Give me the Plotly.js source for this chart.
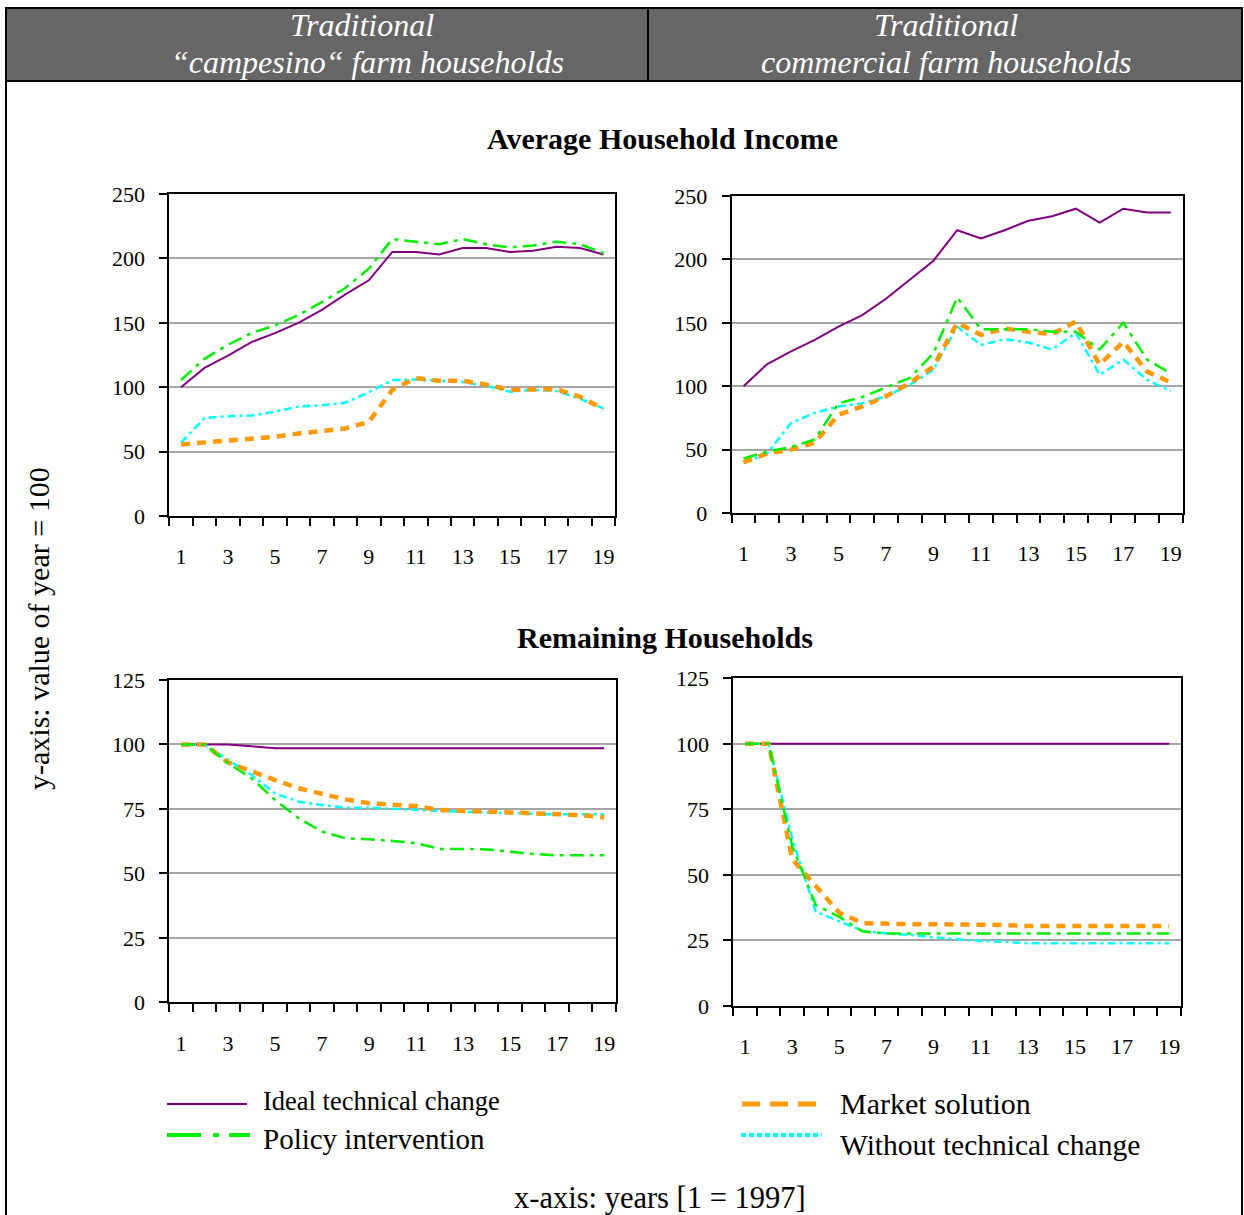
<!DOCTYPE html>
<html>
<head>
<meta charset="utf-8">
<script src="https://cdn.plot.ly/plotly-3.0.1.min.js"></script>
<style>html,body{margin:0;padding:0;background:#fff;}#chart{width:1244px;height:1215px;}</style>
</head>
<body>
<div id="chart"></div>
<script>
// ---------- DATA ----------
var years = [1,2,3,4,5,6,7,8,9,10,11,12,13,14,15,16,17,18,19];
var xTickVals = [1,3,5,7,9,11,13,15,17,19];
var xTickText = ["1","3","5","7","9","11","13","15","17","19"];
var seriesNames = ["Ideal technical change","Policy intervention","Market solution","Without technical change"];

// Average household income - traditional "campesino" farm households
var incCampIdeal   = [100,115,124.5,135,142,150,160,172,183,205,205,203,208,208,205,206,209,208,203];
var incCampPolicy  = [105.6,122,133,142,148,156,166,177,192,215,213,211,215,211,208.5,210,213,211,204];
var incCampMarket  = [55.6,57,59,60.5,61.5,64,66,68,73,98,107,105,105,102,98,98.5,98.5,92.5,83];
var incCampWithout = [57,76,77.5,78,81,85,86,88,96,105.5,106,105,104,101,96.5,98,97,91,83.5];

// Average household income - traditional commercial farm households
var incCommIdeal   = [100,117.5,127.5,136.5,147,156,169,184,199,223,216.5,223,230.5,234,240,229,240,237,237];
var incCommPolicy  = [43,48.5,52,58,86.5,91.5,99,106.5,126,170,145,145,145,143,143,129,150,121,110];
var incCommMarket  = [40,47,50,55.5,77.5,84,92,102.5,115.5,150,140.5,145.5,143,141,151,117,135,111.5,103];
var incCommWithout = [39.5,47,71,79,84,86.5,92,101,113,147,132.5,137,134.5,129,142,109,121,105,96];

// Remaining households - traditional "campesino" farm households
var remCampIdeal   = [100,100,100,99.3,98.5,98.5,98.5,98.5,98.5,98.5,98.5,98.5,98.5,98.5,98.5,98.5,98.5,98.5,98.5];
var remCampPolicy  = [100,100,92.7,86.9,78.5,71.4,66.2,63.6,63.2,62.6,61.7,59.5,59.5,59.3,58.4,57.5,57,57,57];
var remCampMarket  = [100,100,93,89.5,86.2,83,80.8,78.7,77.2,76.5,76.1,74.6,74.2,73.6,73.6,73.3,72.9,72.6,71.7];
var remCampWithout = [100,100,94,88.2,81,77.8,76.5,75.5,75.5,75,74.6,74.2,73.9,73.6,73.3,73,72.9,72.9,72.9];

// Remaining households - traditional commercial farm households
var remCommIdeal   = [100,100,100,100,100,100,100,100,100,100,100,100,100,100,100,100,100,100,100];
var remCommPolicy  = [100,100,61,38.5,34,28.4,27.7,27.7,27.7,27.7,27.7,27.7,27.7,27.7,27.7,27.7,27.7,27.7,27.7];
var remCommMarket  = [100,100,56,46,35.5,31.6,31.2,31.2,31.2,31.2,31.2,30.9,30.5,30.5,30.5,30.5,30.5,30.5,30.5];
var remCommWithout = [100,100,64,36,32.3,28.6,27.7,27.1,26.2,25.4,24.8,24.5,23.9,23.9,23.9,23.9,23.9,23.9,23.9];

// ---------- STYLES ----------
var W = 1244, H = 1215;
function px(x){ return x / W; }
function py(y){ return 1 - y / H; }
var SERIF = "Liberation Serif, Times New Roman, serif";

var styles = {
  ideal:   {color:"#800080", width:2, dash:"solid"},
  policy:  {color:"#00ee00", width:2.5, dash:"14px,6px,4px,6px"},
  market:  {color:"#ff9900", width:4.5, dash:"9px,7px"},
  without: {color:"#00ffff", width:2.5, dash:"8px,4px,3px,4px"}
};

function mk(y, st, name, xa, ya){
  return {x: years, y: y, type:"scatter", mode:"lines", name:name,
          xaxis:xa, yaxis:ya, showlegend:false, hoverinfo:"skip",
          line:{color:st.color, width:st.width, dash:st.dash}};
}

var panels = [
  {xa:"x",  ya:"y",  d:[incCampIdeal,incCampPolicy,incCampMarket,incCampWithout]},
  {xa:"x2", ya:"y2", d:[incCommIdeal,incCommPolicy,incCommMarket,incCommWithout]},
  {xa:"x3", ya:"y3", d:[remCampIdeal,remCampPolicy,remCampMarket,remCampWithout]},
  {xa:"x4", ya:"y4", d:[remCommIdeal,remCommPolicy,remCommMarket,remCommWithout]}
];

var traces = [];
panels.forEach(function(p){
  traces.push(mk(p.d[0], styles.ideal,   seriesNames[0], p.xa, p.ya));
  traces.push(mk(p.d[3], styles.without, seriesNames[3], p.xa, p.ya));
  traces.push(mk(p.d[2], styles.market,  seriesNames[2], p.xa, p.ya));
  traces.push(mk(p.d[1], styles.policy,  seriesNames[1], p.xa, p.ya));
});

function xAxis(dom, anchor){
  return {domain:dom, anchor:anchor, range:[0.5,19.5], fixedrange:true,
    showline:true, linecolor:"#000", linewidth:2, mirror:true,
    showgrid:false, zeroline:false,
    tickmode:"array", tickvals:xTickVals, ticktext:xTickText, ticks:"",
    ticklabelstandoff:20,
    minor:{tickmode:"linear", tick0:0.5, dtick:1, ticks:"outside", ticklen:8, tickwidth:2, tickcolor:"#000", showgrid:false},
    tickfont:{family:SERIF, size:22, color:"#000"}};
}
function yAxis(dom, anchor, maxv, step){
  return {domain:dom, anchor:anchor, range:[0,maxv], fixedrange:true,
    showline:true, linecolor:"#000", linewidth:2, mirror:true,
    showgrid:true, gridcolor:"#a6a6a6", gridwidth:2, zeroline:false,
    tickmode:"linear", tick0:0, dtick:step, ticks:"outside", ticklen:8, tickwidth:2, tickcolor:"#000",
    ticklabelstandoff:10,
    tickfont:{family:SERIF, size:22, color:"#000"}};
}

function txt(x, y, s, size, anchor, extra){
  var a = {xref:"paper", yref:"paper", x:px(x), y:py(y), text:s, showarrow:false,
           xanchor:anchor, yanchor:"middle", font:{family:SERIF, size:size, color:"#000"}};
  if (extra) for (var k in extra) a[k] = extra[k];
  return a;
}

var layout = {
  width:W, height:H, margin:{l:0,r:0,t:0,b:0}, paper_bgcolor:"#fff", plot_bgcolor:"#fff",
  showlegend:false,
  xaxis:  xAxis([px(169.3), px(615.3)], "y"),
  yaxis:  yAxis([py(516), py(194)], "x", 250, 50),
  xaxis2: xAxis([px(731.7), px(1182.7)], "y2"),
  yaxis2: yAxis([py(513), py(196)], "x2", 250, 50),
  xaxis3: xAxis([px(169.3), px(616)], "y3"),
  yaxis3: yAxis([py(1002.3), py(680)], "x3", 125, 25),
  xaxis4: xAxis([px(733.3), px(1181)], "y4"),
  yaxis4: yAxis([py(1006), py(678.3)], "x4", 125, 25),
  shapes: [
    // outer frame
    {type:"rect", xref:"paper", yref:"paper", x0:px(6), x1:px(1242), y0:py(1225), y1:py(8), line:{color:"#000", width:2}, fillcolor:"rgba(0,0,0,0)", layer:"below"},
    // header band
    {type:"rect", xref:"paper", yref:"paper", x0:px(6), x1:px(1242), y0:py(81), y1:py(8), line:{color:"#000", width:2}, fillcolor:"#666666", layer:"below"},
    {type:"line", xref:"paper", yref:"paper", x0:px(648), x1:px(648), y0:py(81), y1:py(8), line:{color:"#000", width:2}},
    // legend samples
    {type:"line", xref:"paper", yref:"paper", x0:px(167), x1:px(247), y0:py(1104), y1:py(1104), line:{color:styles.ideal.color, width:2}},
    {type:"line", xref:"paper", yref:"paper", x0:px(167), x1:px(250), y0:py(1135), y1:py(1135), line:{color:styles.policy.color, width:4, dash:"34px,12px,6px,10px"}},
    {type:"line", xref:"paper", yref:"paper", x0:px(742), x1:px(820), y0:py(1104), y1:py(1104), line:{color:styles.market.color, width:5, dash:"18px,10px"}},
    {type:"line", xref:"paper", yref:"paper", x0:px(741), x1:px(822), y0:py(1135), y1:py(1135), line:{color:styles.without.color, width:4, dash:"5px,3px"}}
  ],
  annotations: [
    txt(362, 25, "<i>Traditional</i>", 32, "center", {font:{family:SERIF, size:32, color:"#fff"}}),
    txt(367, 62, "<i>“campesino“ farm households</i>", 32, "center", {font:{family:SERIF, size:32, color:"#fff"}}),
    txt(946, 25, "<i>Traditional</i>", 32, "center", {font:{family:SERIF, size:32, color:"#fff"}}),
    txt(946, 62, "<i>commercial farm households</i>", 32, "center", {font:{family:SERIF, size:32, color:"#fff"}}),
    txt(663, 138, "<b>Average Household Income</b>", 30, "center"),
    txt(665, 637, "<b>Remaining Households</b>", 30, "center"),
    txt(38, 629, "y-axis: value of year = 100", 30, "center", {textangle:-90}),
    txt(261, 1101, seriesNames[0], 26.5, "left"),
    txt(261, 1139, seriesNames[1], 29, "left"),
    txt(838, 1103, seriesNames[2], 30, "left"),
    txt(838, 1145, seriesNames[3], 29.5, "left"),
    txt(660, 1198, "x-axis: years [1 = 1997]", 30.5, "center")
  ]
};

Plotly.newPlot("chart", traces, layout, {displayModeBar:false, staticPlot:true});
</script>
</body>
</html>
